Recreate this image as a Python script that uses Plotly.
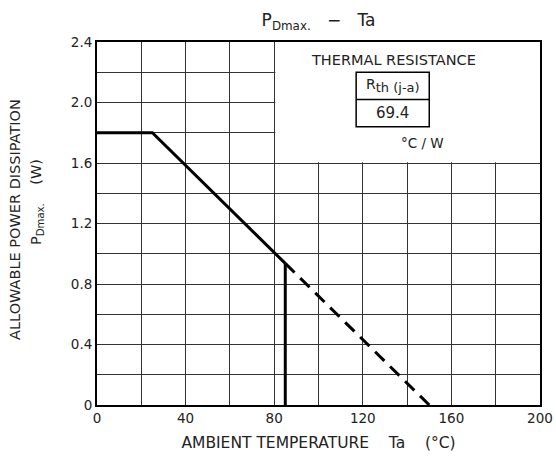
import plotly.graph_objects as go

# ---- data ----
derate_temp = [0, 25, 85]
derate_power = [1.8, 1.8, 0.936]
cutoff_temp = [85, 85]
cutoff_power = [0.936, 0]
extrap_temp = [85, 150]
extrap_power = [0.936, 0]

x_ticks = [0, 20, 40, 60, 80, 100, 120, 140, 160, 180, 200]
x_ticklabels = ["0", "", "40", "", "80", "", "120", "", "160", "", "200"]
y_ticks = [0, 0.2, 0.4, 0.6, 0.8, 1.0, 1.2, 1.4, 1.6, 1.8, 2.0, 2.2, 2.4]
y_ticklabels = ["0", "", "0.4", "", "0.8", "", "1.2", "", "1.6", "", "2.0", "", "2.4"]

rth_label = "R<sub><span style='font-size:13px'>th (j-a)</span></sub>"
rth_value = "69.4"

FONT = "DejaVu Sans"
INK = "#222222"

fig = go.Figure()
fig.add_trace(go.Scatter(x=derate_temp, y=derate_power, mode="lines",
                         line=dict(color="black", width=3), showlegend=False))
fig.add_trace(go.Scatter(x=cutoff_temp, y=cutoff_power, mode="lines",
                         line=dict(color="black", width=3), showlegend=False))
fig.add_trace(go.Scatter(x=extrap_temp, y=extrap_power, mode="lines",
                         line=dict(color="black", width=3, dash="13px,8px"), showlegend=False))

# white panel behind the thermal resistance box (masks grid)
fig.add_shape(type="rect", xref="x", yref="y", x0=80.5, x1=200, y0=1.605, y1=2.4,
              fillcolor="white", line=dict(width=0), layer="between")
# table
fig.add_shape(type="rect", xref="x", yref="y", x0=117, x1=150, y0=1.84, y1=2.20,
              line=dict(color="black", width=1.5), fillcolor="rgba(0,0,0,0)")
fig.add_shape(type="line", xref="x", yref="y", x0=117, x1=150, y0=2.02, y1=2.02,
              line=dict(color="black", width=1.5))

fig.add_annotation(x=134, y=2.28, xref="x", yref="y", text="THERMAL RESISTANCE",
                   showarrow=False, font=dict(family=FONT, size=14.5, color=INK))
fig.add_annotation(x=133.5, y=2.11, xref="x", yref="y", text=rth_label,
                   showarrow=False, font=dict(family=FONT, size=14, color=INK))
fig.add_annotation(x=133.5, y=1.93, xref="x", yref="y", text=rth_value,
                   showarrow=False, font=dict(family=FONT, size=15, color=INK))
fig.add_annotation(x=147, y=1.73, xref="x", yref="y", text="°C / W",
                   showarrow=False, font=dict(family=FONT, size=13.5, color=INK))

# y-axis title (two rotated lines)
fig.add_annotation(xref="paper", yref="paper", x=-0.185, y=0.51, textangle=-90,
                   text="ALLOWABLE POWER DISSIPATION", showarrow=False,
                   xanchor="center", yanchor="middle",
                   font=dict(family=FONT, size=14.5, color=INK))
fig.add_annotation(xref="paper", yref="paper", x=-0.137, y=0.56, textangle=-90,
                   text="P<sub>Dmax.</sub>    (W)", showarrow=False,
                   xanchor="center", yanchor="middle",
                   font=dict(family=FONT, size=14.5, color=INK))

fig.update_layout(
    width=556, height=473,
    margin=dict(l=97, r=16, t=42, b=68, autoexpand=False),
    paper_bgcolor="white", plot_bgcolor="white",
    font=dict(family=FONT, size=13, color=INK),
    title=dict(text="P<sub>Dmax.</sub>   −   Ta", xref="paper", x=0.5, xanchor="center",
               y=0.957, yanchor="middle", font=dict(family=FONT, size=17, color=INK)),
    xaxis=dict(range=[0, 200], tickvals=x_ticks, ticktext=x_ticklabels,
               showgrid=True, gridcolor="#333", gridwidth=1,
               showline=True, linecolor="black", linewidth=2, mirror=True,
               ticks="", zeroline=False, tickfont=dict(size=13.5), automargin=False,
               title=dict(text="AMBIENT TEMPERATURE    Ta    (°C)", standoff=12,
                          font=dict(size=15.5))),
    yaxis=dict(range=[0, 2.4], tickvals=y_ticks, ticktext=y_ticklabels,
               showgrid=True, gridcolor="#333", gridwidth=1,
               showline=True, linecolor="black", linewidth=2, mirror=True,
               ticks="", zeroline=False, tickfont=dict(size=13.5), automargin=False),
)

fig.write_html("out.html", config={"displayModeBar": False},
               post_script="document.body.style.margin='0';")
